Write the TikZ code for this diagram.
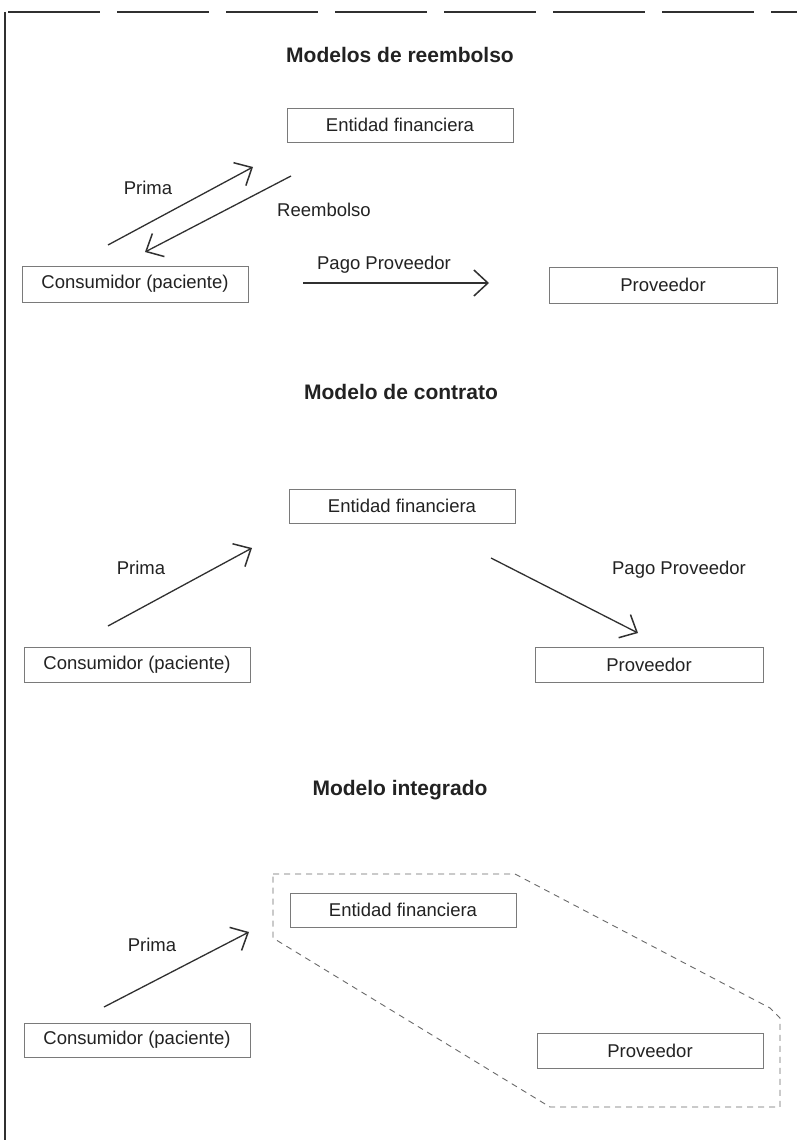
\documentclass[tikz,border=0pt]{standalone}
\usepackage{fontspec}
\setmainfont{Liberation Sans}
\usetikzlibrary{arrows.meta}
\definecolor{txt}{HTML}{222222}
\definecolor{boxgray}{HTML}{7A7A7A}
\definecolor{arr}{HTML}{303030}
\definecolor{dashgray}{HTML}{6A6A6A}
\newcommand{\lblf}{\fontsize{18.5}{22}\selectfont}
\newcommand{\ttlf}{\fontsize{21}{25}\selectfont\bfseries}
\begin{document}
\begin{tikzpicture}[x=1pt,y=-1pt,
  box/.style={draw=boxgray, line width=0.9pt, minimum width=226pt, minimum height=34pt, inner sep=0pt, font=\lblf, text=txt},
  lab/.style={font=\lblf, text=txt, inner sep=0pt},
  ttl/.style={font=\ttlf, text=txt, inner sep=0pt},
  flow/.style={draw=arr, line width=1.3pt, -{Straight Barb[length=14pt,width=26pt,line width=1.5pt]}},
  frame/.style={draw=arr, line width=1.2pt},
  group/.style={draw=dashgray, line width=0.9pt, dash pattern=on 6pt off 5pt}
]
\useasboundingbox (0,0) rectangle (797,1140);
\fill[white] (0,0) rectangle (797,1140);
% frame
\draw[frame, dash pattern=on 92pt off 17pt] (8,12) -- (797,12);
\draw[frame, line width=1.8pt] (5,12) -- (5,1140);

% ---- Section 1
\node[ttl] (t1) at (400,55) {Modelos de reembolso};
\node[box] (ef1) at (400,125) {Entidad financiera};
\node[box, minimum height=36pt] (co1) at (135,284) {Consumidor (paciente)};
\node[box, minimum height=36pt, minimum width=228pt] (pr1) at (663,285) {Proveedor};
\coordinate (p1a) at (108,245); \coordinate (p1b) at (253,167);
\coordinate (r1a) at (291,176); \coordinate (r1b) at (145,252);
\coordinate (g1a) at (303,283); \coordinate (g1b) at (489,283);
\draw[flow] (p1a) -- (p1b);
\draw[flow] (r1a) -- (r1b);
\draw[flow] (g1a) -- (g1b);
\node[lab] (lp1) at (148,188) {Prima};
\node[lab] (lr1) at (324,210) {Reembolso};
\node[lab] (lg1) at (384,265) {Pago Proveedor};

% ---- Section 2
\node[ttl] (t2) at (401,392) {Modelo de contrato};
\node[box] (ef2) at (402,506) {Entidad financiera};
\node[box, minimum height=35pt] (co2) at (137,665) {Consumidor (paciente)};
\node[box, minimum height=35pt, minimum width=228pt] (pr2) at (649,665) {Proveedor};
\coordinate (p2a) at (108,626); \coordinate (p2b) at (252,548);
\coordinate (g2a) at (491,558); \coordinate (g2b) at (638,633);
\draw[flow] (p2a) -- (p2b);
\draw[flow] (g2a) -- (g2b);
\node[lab] (lp2) at (141,568) {Prima};
\node[lab] (lg2) at (679,570) {Pago Proveedor};

% ---- Section 3
\node[ttl] (t3) at (400,790) {Modelo integrado};
\node[box] (ef3) at (403,910) {Entidad financiera};
\node[box] (co3) at (137,1040) {Consumidor (paciente)};
\node[box, minimum height=35pt] (pr3) at (650,1051) {Proveedor};
\coordinate (p3a) at (104,1007); \coordinate (p3b) at (249,932);
\draw[flow] (p3a) -- (p3b);
\node[lab] (lp3) at (152,945) {Prima};
\draw[group] (273,874) -- (515,874) -- (770,1008) -- (780,1018) -- (780,1107) -- (550,1107) -- (273,938) -- cycle;
\end{tikzpicture}
\end{document}
